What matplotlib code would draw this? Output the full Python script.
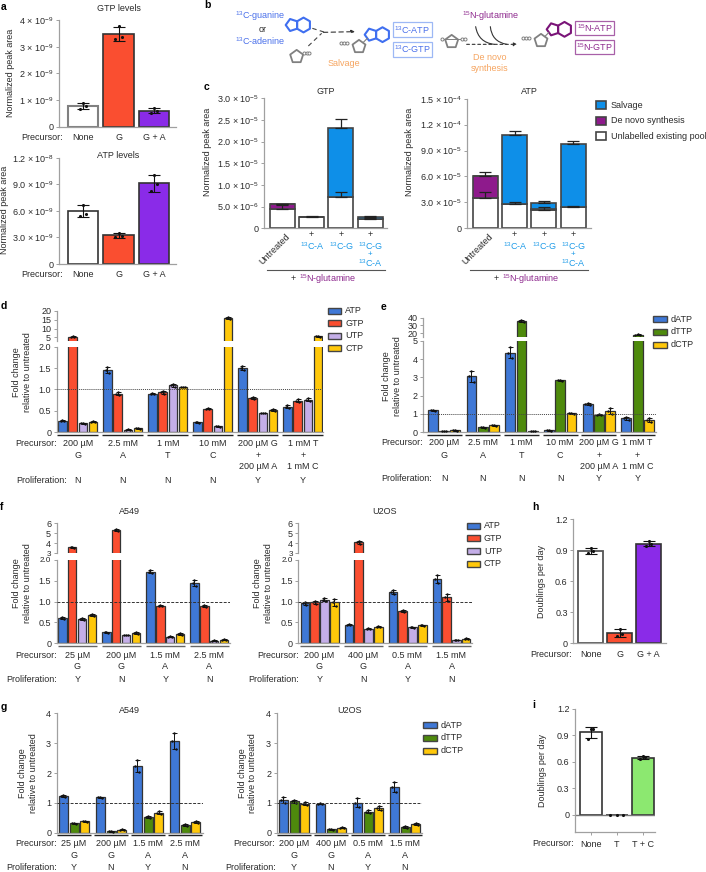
import numpy as np
import matplotlib
matplotlib.use('Agg')
import matplotlib.pyplot as plt
from matplotlib.patches import Rectangle, Polygon, FancyArrowPatch

plt.rcParams['font.family'] = ['Liberation Sans', 'DejaVu Sans']
plt.rcParams['mathtext.fontset'] = 'custom'
plt.rcParams['mathtext.rm'] = 'Liberation Sans'
plt.rcParams['mathtext.it'] = 'Liberation Sans:italic'
plt.rcParams['mathtext.bf'] = 'Liberation Sans:bold'
plt.rcParams['mathtext.default'] = 'regular'

W, H = 706, 872
FS = 6.5
TXT = '#2a2a2a'
SP = '#a0a0a0'
RED, VIOLET, BLUE, LILAC, GOLD, GREEN, LGREEN = '#FA4E30', '#8A2BE8', '#3F78D6', '#C4AEE8', '#FFC80A', '#4E8A0C', '#8CE870'
SALV, DENOVO = '#0E8FE8', '#8E1A8C'
C13 = '#1E9BE8'
LBLUE, LPURP, LORANGE = '#4A70EA', '#8E2A8E', '#F6A560'

# ---------- data ----------
prec3_a = ['None', 'G', 'G + A']
a_gtp_reps = [[0.68, 0.78, 0.88], [3.28, 3.35, 3.78], [0.50, 0.60, 0.70]]   # x 1e-9
a_atp_reps = [[5.4, 5.7, 6.7], [3.05, 3.15, 3.55], [8.2, 9.0, 10.1]]        # x 1e-9

c_labels = ['Untreated', '13C-A', '13C-G', '13C-G + 13C-A']
c_gtp_pool = [4.4, 2.5, 7.3, 2.1]        # x 1e-6
c_gtp_denovo = [1.1, 0.0, 0.0, 0.0]
c_gtp_salvage = [0.0, 0.0, 15.8, 0.4]
c_gtp_pool_err = [0.9, 0.3, 1.1, 0.2]
c_gtp_total_err = [0.2, 0.0, 2.1, 0.4]
c_atp_pool = [3.55, 2.8, 2.15, 2.45]     # x 1e-5
c_atp_denovo = [2.55, 0.0, 0.1, 0.0]
c_atp_salvage = [0.0, 7.96, 0.65, 7.35]
c_atp_pool_err = [0.7, 0.3, 0.3, 0.15]
c_atp_total_err = [0.4, 0.55, 0.3, 0.35]

d_ATP = [0.27, 1.45, 0.90, 0.23, 1.51, 0.60]
d_GTP = [5.3, 0.90, 0.93, 0.55, 0.80, 0.74]
d_UTP = [0.21, 0.06, 1.10, 0.14, 0.45, 0.76]
d_CTP = [0.25, 0.09, 1.06, 16.0, 0.52, 5.5]
d_ATP_e = [0.01, 0.07, 0.01, 0.01, 0.05, 0.03]
d_GTP_e = [0.3, 0.04, 0.03, 0.01, 0.03, 0.03]
d_UTP_e = [0.01, 0.01, 0.03, 0.01, 0.01, 0.03]
d_CTP_e = [0.01, 0.01, 0.01, 0.4, 0.03, 0.2]
d_rows = [['200 µM', '2.5 mM', '1 mM', '10 mM', '200 µM G', '1 mM T'],
          ['G', 'A', 'T', 'C', '+', '+'],
          ['', '', '', '', '200 µM A', '1 mM C']]
dprolif = ['N', 'N', 'N', 'N', 'Y', 'Y']

e_dATP = [1.20, 3.05, 4.35, 0.10, 1.53, 0.77]
e_dTTP = [0.07, 0.27, 36.0, 2.83, 0.97, 17.5]
e_dCTP = [0.10, 0.38, 0.07, 1.05, 1.15, 0.68]
e_dATP_e = [0.03, 0.30, 0.30, 0.03, 0.05, 0.08]
e_dTTP_e = [0.01, 0.02, 1.5, 0.03, 0.02, 0.6]
e_dCTP_e = [0.02, 0.03, 0.01, 0.03, 0.15, 0.12]

f1_ATP = [0.61, 0.26, 1.72, 1.44]
f1_GTP = [3.6, 5.35, 0.90, 0.90]
f1_UTP = [0.58, 0.20, 0.16, 0.06]
f1_CTP = [0.68, 0.24, 0.22, 0.09]
f1_ATP_e = [0.03, 0.01, 0.03, 0.07]
f1_GTP_e = [0.08, 0.12, 0.01, 0.03]
f1_UTP_e = [0.03, 0.01, 0.01, 0.01]
f1_CTP_e = [0.02, 0.02, 0.03, 0.01]
f2_ATP = [0.96, 0.45, 1.23, 1.54]
f2_GTP = [0.98, 4.1, 0.77, 1.10]
f2_UTP = [1.05, 0.35, 0.38, 0.08]
f2_CTP = [0.98, 0.40, 0.43, 0.11]
f2_ATP_e = [0.03, 0.02, 0.05, 0.10]
f2_GTP_e = [0.04, 0.15, 0.03, 0.08]
f2_UTP_e = [0.03, 0.01, 0.02, 0.01]
f2_CTP_e = [0.08, 0.01, 0.02, 0.01]

g1_dATP = [1.22, 1.18, 2.24, 3.07]
g1_dTTP = [0.31, 0.05, 0.52, 0.26]
g1_dCTP = [0.38, 0.10, 0.67, 0.36]
g1_dATP_e = [0.03, 0.02, 0.20, 0.28]
g1_dTTP_e = [0.02, 0.01, 0.03, 0.02]
g1_dCTP_e = [0.02, 0.02, 0.05, 0.03]
g2_dATP = [1.08, 0.97, 1.00, 1.53]
g2_dTTP = [1.05, 0.11, 0.71, 0.19]
g2_dCTP = [0.97, 0.17, 0.83, 0.30]
g2_dATP_e = [0.10, 0.02, 0.15, 0.18]
g2_dTTP_e = [0.05, 0.01, 0.04, 0.02]
g2_dCTP_e = [0.05, 0.02, 0.07, 0.03]

f1_conc = ['25 µM', '200 µM', '1.5 mM', '2.5 mM']
f2_conc = ['200 µM', '400 µM', '0.5 mM', '1.5 mM']
fg_base = ['G', 'G', 'A', 'A']
fg_prolif = ['Y', 'N', 'Y', 'N']

h_reps = [[0.87, 0.89, 0.92], [0.07, 0.09, 0.14], [0.94, 0.96, 0.99]]
i_reps = [[0.86, 0.97, 0.97], [0.0, 0.0, 0.0], [0.63, 0.65, 0.66]]
prec3_i = ['None', 'T', 'T + C']

# ---------- helpers ----------
fig = plt.figure(figsize=(W / 100, H / 100), dpi=100, facecolor='white')
ov = fig.add_axes([0, 0, 1, 1], zorder=20)
ov.set_xlim(0, W); ov.set_ylim(H, 0); ov.axis('off'); ov.patch.set_alpha(0)


def T(x, y, s, ha='center', va='center', color=TXT, fs=FS, **kw):
    return ov.text(x, y, s, ha=ha, va=va, color=color, fontsize=fs, **kw)


def axpx(l, r, top, bottom):
    ax = fig.add_axes([l / W, 1 - bottom / H, (r - l) / W, (bottom - top) / H])
    for s in ['top', 'right']:
        ax.spines[s].set_visible(False)
    for s in ['left', 'bottom']:
        ax.spines[s].set_color(SP); ax.spines[s].set_linewidth(0.9)
    ax.tick_params(axis='y', length=2.5, width=0.7, color=SP, labelsize=FS, labelcolor=TXT, pad=1.5)
    ax.tick_params(axis='x', length=0)
    return ax


def simple_bars(ax, reps, colors, width, cats, edge='#333333', pad=4.5, tick=0):
    m = np.array([np.mean(r) for r in reps])
    sd = np.array([np.std(r, ddof=1) for r in reps])
    x = np.arange(len(reps))
    ax.bar(x, m, width=width, color=colors, edgecolor=edge, linewidth=1.2, zorder=2)
    has = sd > 0
    ax.errorbar(x[has], m[has], yerr=sd[has], fmt='none', ecolor='#111111', elinewidth=0.8, capsize=4.5,
                capthick=0.8, zorder=3)
    for xi, r, s in zip(x, reps, sd):
        spread = 0.09 if s > 0 else 0.26
        ax.scatter(xi + np.array([-spread, spread, 0.0]), r, s=5, color='#111111', zorder=4, linewidths=0,
                   clip_on=False)
    ax.set_xticks(x, cats)
    ax.tick_params(axis='x', length=tick, width=0.7, color=SP, labelsize=FS, labelcolor=TXT, pad=pad)


def xspan(ax, first, step, l, r):
    ax.set_xlim((l - first) / step, (r - first) / step)


def grouped(axes, series, errs, colors, bstep, bwidth, gstep):
    k = len(series)
    for ax in axes:
        for j, (v, e, c) in enumerate(zip(series, errs, colors)):
            x = np.arange(len(v)) + (j - (k - 1) / 2) * bstep / gstep
            ax.bar(x, v, width=bwidth / gstep, color=c, edgecolor='#333333', linewidth=0.9, zorder=2)
            ax.errorbar(x, v, yerr=e, fmt='none', ecolor='#111111', elinewidth=0.7, capsize=1.8, capthick=0.7, zorder=3)
            dx = bwidth / gstep * 0.22
            v_, e_ = np.array(v), np.array(e)
            for off, val in [(-dx, v_), (dx, v_ - e_), (0, v_ + e_)]:
                ax.scatter(x + off, val, s=3, color='#111111', zorder=4, linewidths=0)


def broken(l, r, upper_top, upper_bot, lower_top, lower_bot, upper_lim, lower_lim, upper_ticks, lower_ticks,
           series, errs, colors, bstep, bwidth, g0, gstep, ref_style):
    up = axpx(l, r, upper_top, upper_bot)
    lo = axpx(l, r, lower_top, lower_bot)
    up.spines['bottom'].set_visible(False)
    up.set_ylim(*upper_lim); lo.set_ylim(*lower_lim)
    up.set_yticks(upper_ticks); up.set_yticklabels([str(t) for t in upper_ticks])
    lo.set_yticks(lower_ticks[0]); lo.set_yticklabels(lower_ticks[1])
    for ax in (up, lo):
        xspan(ax, g0, gstep, l, r)
        ax.set_xticks([])
    grouped((up, lo), series, errs, colors, bstep, bwidth, gstep)
    lo.axhline(1, zorder=5, **ref_style)
    return up, lo


def tighten(up, lo):
    # the "3" and "2.0" ticks sit very close together in panel f
    up.get_yticklabels()[0].set_fontsize(5.9)
    lo.get_yticklabels()[-1].set_fontsize(5.9)


def under(g0, gstep, n, half, y, color='#222222'):
    for i in range(n):
        c = g0 + i * gstep
        ov.plot([c - half, c + half], [y, y], color=color, lw=1.0, solid_capstyle='butt')


def legend(x0, x1, text_x, ys, labels, colors, h=6.0, edge='#444444', lw=1.0):
    for y, lab, col in zip(ys, labels, colors):
        ov.add_patch(Rectangle((x0, y - h / 2), x1 - x0, h, facecolor=col, edgecolor=edge, linewidth=lw))
        T(text_x, y, lab, ha='left')


def rows(g0, gstep, ys, table):
    for y, row in zip(ys, table):
        for i, s in enumerate(row):
            if s:
                T(g0 + i * gstep, y, s)


dash = dict(color='#333333', lw=0.7, ls=(0, (3, 1.5)))
dots = dict(color='#444444', lw=0.7, ls=(0, (1, 1)))

# ---------- panel labels ----------
for (x, y, s) in [(1, 7, 'a'), (204, 5, 'b'), (204, 87, 'c'), (1, 306, 'd'), (381, 306.5, 'e'),
                  (0, 507, 'f'), (1, 707, 'g'), (532, 507, 'h'), (532, 705, 'i')]:
    T(x, y, s, ha='left', fontweight='bold', color='black', fs=7.5)

# ---------- a ----------
ax = axpx(59.3, 176, 20, 126.7)
xspan(ax, 83, 35.5, 59.3, 176)
simple_bars(ax, [np.array(r) * 1e-9 for r in a_gtp_reps], ['white', RED, VIOLET], 0.87, prec3_a)
ax.set_ylim(0, 4e-9)
ax.set_yticks(np.arange(5) * 1e-9, ['0'] + [f'{v} × 10$^{{-9}}$' for v in [1, 2, 3, 4]])
ax.patches[0].set_edgecolor('#808080'); ax.patches[0].set_linewidth(1.5)
T(118.5, 8.5, 'GTP levels')
T(10.3, 73, 'Normalized peak area', rotation=90)
T(62.5, 137.5, 'Precursor:', ha='right')

ax = axpx(59.3, 176, 157.7, 264)
xspan(ax, 83, 35.5, 59.3, 176)
simple_bars(ax, [np.array(r) * 1e-9 for r in a_atp_reps], ['white', RED, VIOLET], 0.87, prec3_a)
ax.set_ylim(0, 1.2e-8)
ax.set_yticks(np.array([0, 3, 6, 9, 12]) * 1e-9,
              ['0', '3.0 × 10$^{-9}$', '6.0 × 10$^{-9}$', '9.0 × 10$^{-9}$', '1.2 × 10$^{-8}$'])
T(118.5, 155, 'ATP levels')
T(4.5, 210, 'Normalized peak area', rotation=90)
T(62.5, 274, 'Precursor:', ha='right')


# ---------- b (schematic) ----------
def ring(cx, cy, r, n, rot, color, lw=1.5):
    ang = np.deg2rad(rot) + 2 * np.pi * np.arange(n) / n
    ov.add_patch(Polygon(np.c_[cx + r * np.sin(ang), cy - r * np.cos(ang)], closed=True, fill=False,
                         edgecolor=color, linewidth=lw, joinstyle='round'))


def purine(x, y, color):
    ring(x, y, 6.3, 5, 270, color)
    ring(x + 11.5, y, 7.4, 6, 0, color)


def pentose(x, y, px, py, color='#808080'):
    ring(x, y, 6.8, 5, 0, color, lw=1.3)
    ov.plot(px, py, '-o', color=color, lw=0.7, ms=2.2, mfc='white', mew=0.7)


tx, ty = lambda z: 225 + z / 3, lambda z: z / 3
purine(tx(201), ty(75), '#3F6FF0')
pentose(tx(215), ty(170), [tx(237), tx(245), tx(253)], [ty(158)] * 3)
purine(tx(438), ty(104), '#3F6FF0')
pentose(tx(402), ty(140), [tx(347), tx(356), tx(365)], [ty(128)] * 3)
ov.plot([tx(416), tx(427)], [ty(126), ty(115)], color='#808080', lw=0.8)
pentose(tx(680), ty(125), [tx(650), tx(710), tx(720)], [ty(118)] * 3)
purine(tx(984), ty(88), '#7A1478')
pentose(tx(948), ty(122), [tx(893), tx(902), tx(911)], [ty(113)] * 3)
ov.plot([tx(960), tx(971)], [ty(109), ty(98)], color='#808080', lw=0.8)

ds = dict(color='#444444', lw=0.8, ls=(0, (4, 3)))
ov.plot([tx(262), tx(300)], [ty(85), ty(97)], **ds)
ov.plot([tx(250), tx(290)], [ty(138), ty(100)], **ds)
ov.add_patch(FancyArrowPatch((tx(295), ty(97)), (tx(390), ty(95)), arrowstyle='-|>', mutation_scale=5,
                             color='#333333', lw=0.8, ls=(0, (4, 3)), shrinkA=0, shrinkB=0))
ov.add_patch(FancyArrowPatch((tx(725), ty(133)), (tx(877), ty(133)), arrowstyle='-|>', mutation_scale=5,
                             color='#333333', lw=0.8, ls=(0, (2.5, 2.5)), shrinkA=0, shrinkB=0))
for x0, x1 in [(752, 808), (796, 845)]:
    ov.add_patch(FancyArrowPatch((tx(x0), ty(80)), (tx(x1), ty(133)), arrowstyle='-', lw=0.8, color='#333333',
                                 connectionstyle='arc3,rad=0.38', shrinkA=0, shrinkB=0))

T(tx(180), ty(47), '$^{13}$C-guanine', ha='right', color=LBLUE)
T(tx(113), ty(87), 'or')
T(tx(180), ty(124), '$^{13}$C-adenine', ha='right', color=LBLUE)
T(tx(358), ty(192), 'Salvage', color=LORANGE)
T(tx(793), ty(173), 'De novo', color=LORANGE)
T(tx(793), ty(206), 'synthesis', color=LORANGE)
T(tx(797), ty(49), '$^{15}$N-glutamine', color=LPURP)
for (x0, x1, y0, y1, s, ec, c) in [(503, 620, 67, 112, '$^{13}$C-ATP', '#9DB8F5', LBLUE),
                                    (503, 620, 125, 170, '$^{13}$C-GTP', '#9DB8F5', LBLUE),
                                    (1051, 1168, 62, 104, '$^{15}$N-ATP', '#A860A8', LPURP),
                                    (1051, 1168, 120, 162, '$^{15}$N-GTP', '#A860A8', LPURP)]:
    ov.add_patch(Rectangle((tx(x0), ty(y0)), (x1 - x0) / 3, (y1 - y0) / 3, fill=False, edgecolor=ec, linewidth=0.9))
    T(tx((x0 + x1) / 2), ty((y0 + y1) / 2), s, color=c)


# ---------- c ----------
def stacked(l, r, c0, top, pool, denovo, salvage, pool_e, tot_e, scale, ylim, ticks, labels):
    ax = axpx(l, r, top, 228.3)
    xspan(ax, c0, 29.3, l, r)
    x = np.arange(4)
    p, dn, sv = [np.array(a) * scale for a in (pool, denovo, salvage)]
    w = 25 / 29.3
    ec = dict(edgecolor='#444444', linewidth=1.2, width=w, zorder=2)
    ax.bar(x, p, color='white', **ec)
    ax.bar(x, dn, bottom=p, color=DENOVO, **ec)
    ax.bar(x, sv, bottom=p + dn, color=SALV, **ec)
    tot = p + dn + sv
    ebk = dict(fmt='none', ecolor='#222222', elinewidth=0.9, capsize=4.5, capthick=0.9, zorder=3)
    ax.errorbar(x, p, yerr=[np.zeros(4), np.array(pool_e) * scale], **ebk)
    te = np.array(tot_e) * scale
    ax.errorbar(x[te > 0], tot[te > 0], yerr=[np.zeros((te > 0).sum()), te[te > 0]], **ebk)
    ax.set_ylim(*ylim)
    ax.set_yticks(ticks, labels)
    ax.set_xticks([])
    for i, xc in enumerate(c0 + 29.3 * np.arange(4)):
        if i:
            T(xc, 234.7, '+', color=TXT)
    T(c0 + 3, 231.5, 'Untreated', rotation=45, ha='right', va='top', rotation_mode='anchor')
    T(c0 + 29.3 + 1, 246, '$^{13}$C-A', color=C13)
    T(c0 + 58.6 + 1, 246, '$^{13}$C-G', color=C13)
    T(c0 + 87.9, 246, '$^{13}$C-G', color=C13)
    T(c0 + 87.9, 254.6, '+', color=C13, fs=5.8)
    T(c0 + 87.9, 263.6, '$^{13}$C-A', color=C13)
    ov.plot([c0 - 15, c0 + 102.7], [270, 270], color='#555555', lw=0.8)
    T(c0 + 11, 278.7, '+')
    T(c0 + 16.7, 278.7, '$^{15}$N-glutamine', ha='left', color=LPURP)
    return ax


stacked(264.3, 387.3, 282.3, 98.3, c_gtp_pool, c_gtp_denovo, c_gtp_salvage, c_gtp_pool_err, c_gtp_total_err,
        1e-6, (0, 3e-5), np.arange(0, 3.01e-5, 5e-6),
        ['0', '5.0 × 10$^{-6}$', '1.0 × 10$^{-5}$', '1.5 × 10$^{-5}$', '2.0 × 10$^{-5}$', '2.5 × 10$^{-5}$', '3.0 × 10$^{-5}$'])
stacked(467.3, 590.7, 485.3, 98.7, c_atp_pool, c_atp_denovo, c_atp_salvage, c_atp_pool_err, c_atp_total_err,
        1e-5, (0, 1.5e-4), np.arange(0, 1.51e-4, 3e-5),
        ['0', '3.0 × 10$^{-5}$', '6.0 × 10$^{-5}$', '9.0 × 10$^{-5}$', '1.2 × 10$^{-4}$', '1.5 × 10$^{-4}$'])
T(326, 91.5, 'GTP')
T(225 + 913 / 3, 91.5, 'ATP')
T(207.7, 151.7, 'Normalized peak area', rotation=90)
T(410, 151.7, 'Normalized peak area', rotation=90)
legend(596, 605.7, 611, [105.3, 120.7, 136.3], ['Salvage', 'De novo synthesis', 'Unlabelled existing pool'],
       [SALV, DENOVO, 'white'], h=8, lw=1.2)

FC = 'Fold change\nrelative to untreated'

# ---------- d ----------
broken(56.7, 323, 311, 341, 346.7, 432.3, (2.9, 20), (0, 2), [5, 10, 15, 20],
       ([0, .5, 1, 1.5, 2], ['0', '0.5', '1.0', '1.5', '2.0']),
       [d_ATP, d_GTP, d_UTP, d_CTP], [d_ATP_e, d_GTP_e, d_UTP_e, d_CTP_e], [BLUE, RED, LILAC, GOLD],
       10.3, 8.4, 77.8, 45, dots)
under(77.8, 45, 6, 20.5, 434.8)
rows(77.8, 45, [443, 455, 466], d_rows)
rows(77.8, 45, [480], [dprolif])
T(15.7, 443, 'Precursor:', ha='left')
T(16, 480, 'Proliferation:', ha='left')
T(22, 372.3, FC, rotation=90, multialignment='center', linespacing=1.15)
legend(328.3, 341, 345.3, [310.7, 323, 335.7, 348.3], ['ATP', 'GTP', 'UTP', 'CTP'], [BLUE, RED, LILAC, GOLD])

# ---------- e ----------
broken(423.3, 655.7, 317.7, 337.3, 340.7, 432.3, (14.4, 40), (0, 5), [20, 30, 40],
       ([0, 1, 2, 3, 4, 5], ['0', '1', '2', '3', '4', '5']),
       [e_dATP, e_dTTP, e_dCTP], [e_dATP_e, e_dTTP_e, e_dCTP_e], [BLUE, GREEN, GOLD],
       11.3, 9.8, 444, 38.73, dots)
under(444, 38.73, 6, 17.5, 434.8)
rows(444, 38.73, [442.7, 455, 466], d_rows)
rows(444, 38.73, [478], [dprolif])
T(381, 442.7, 'Precursor:', ha='left')
T(381, 478, 'Proliferation:', ha='left')
T(392, 375.7, FC, rotation=90, multialignment='center', linespacing=1.15)
legend(653.3, 666.7, 670.7, [319, 331.7, 344.7], ['dATP', 'dTTP', 'dCTP'], [BLUE, GREEN, GOLD])

# ---------- f ----------
ltick = ([0, .5, 1, 1.5, 2], ['0', '0.5', '1.0', '1.5', '2.0'])
up, lo = broken(56.7, 230, 523.3, 553.3, 560, 643.3, (3, 6), (0, 2), [3, 4, 5, 6], ltick,
                [f1_ATP, f1_GTP, f1_UTP, f1_CTP], [f1_ATP_e, f1_GTP_e, f1_UTP_e, f1_CTP_e], [BLUE, RED, LILAC, GOLD],
                9.9, 8.3, 77.3, 44, dash)
tighten(up, lo)
under(77.3, 44, 4, 19.5, 645.5, color='#666666')
rows(77.3, 44, [655, 666], [f1_conc, fg_base])
rows(77.3, 44, [679.5], [fg_prolif])
T(15.7, 655, 'Precursor:', ha='left')
T(6.7, 679.5, 'Proliferation:', ha='left')
T(22, 583, FC, rotation=90, multialignment='center', linespacing=1.15)
T(129, 511.7, 'A549')

up, lo = broken(298.3, 471.7, 523.3, 553.3, 560, 643.3, (3, 6), (0, 2), [3, 4, 5, 6], ltick,
                [f2_ATP, f2_GTP, f2_UTP, f2_CTP], [f2_ATP_e, f2_GTP_e, f2_UTP_e, f2_CTP_e], [BLUE, RED, LILAC, GOLD],
                9.9, 8.3, 319.5, 44, dash)
tighten(up, lo)
under(319.5, 44, 4, 19.5, 645.5, color='#666666')
rows(319.5, 44, [655, 666], [f2_conc, fg_base])
rows(319.5, 44, [679.5], [fg_prolif])
T(257, 655, 'Precursor:', ha='left')
T(248, 679.5, 'Proliferation:', ha='left')
T(263, 583, FC, rotation=90, multialignment='center', linespacing=1.15)
T(384.7, 511.7, 'U2OS')
legend(467.3, 480, 484, [525.7, 538, 551, 563.7], ['ATP', 'GTP', 'UTP', 'CTP'], [BLUE, RED, LILAC, GOLD])


# ---------- g ----------
def panel_g(l, r, g0, series, errs):
    ax = axpx(l, r, 713.3, 832.7)
    xspan(ax, g0, 37, l, r)
    ax.set_ylim(0, 4); ax.set_yticks([0, 1, 2, 3, 4], ['0', '1', '2', '3', '4'])
    ax.set_xticks([])
    grouped([ax], series, errs, [BLUE, GREEN, GOLD], 10.7, 9, 37)
    ax.axhline(1, zorder=5, **dash)
    under(g0, 37, 4, 17, 835)
    return ax


panel_g(56.7, 202.7, 74, [g1_dATP, g1_dTTP, g1_dCTP], [g1_dATP_e, g1_dTTP_e, g1_dCTP_e])
panel_g(276.7, 422.3, 294, [g2_dATP, g2_dTTP, g2_dCTP], [g2_dATP_e, g2_dTTP_e, g2_dCTP_e])
rows(74, 37, [843.7, 855], [f1_conc, fg_base])
rows(74, 37, [867.5], [fg_prolif])
rows(294, 37, [843.7, 855], [f2_conc, fg_base])
rows(294, 37, [867.5], [fg_prolif])
T(15.7, 843.7, 'Precursor:', ha='left')
T(6.7, 867.5, 'Proliferation:', ha='left')
T(233, 843.7, 'Precursor:', ha='left')
T(225, 867.5, 'Proliferation:', ha='left')
T(28, 773, FC, rotation=90, multialignment='center', linespacing=1.15)
T(247.5, 773, FC, rotation=90, multialignment='center', linespacing=1.15)
T(129, 710.7, 'A549')
T(349.3, 710.7, 'U2OS')
legend(423.3, 436.7, 441, [725.3, 737.7, 750.7], ['dATP', 'dTTP', 'dCTP'], [BLUE, GREEN, GOLD])

# ---------- h ----------
ax = axpx(573.3, 666, 519.3, 643.3)
xspan(ax, 590.7, 29, 573.3, 666)
simple_bars(ax, h_reps, ['white', RED, VIOLET], 25 / 29, prec3_a, tick=0)
ax.patches[0].set_edgecolor('#555555'); ax.patches[0].set_linewidth(1.3)
ax.set_ylim(0, 1.2); ax.set_yticks([0, .3, .6, .9, 1.2], ['0', '0.3', '0.6', '0.9', '1.2'])
T(572, 654.7, 'Precursor:', ha='right')
T(541.7, 581.7, 'Doublings per day', rotation=90)

# ---------- i ----------
ax = axpx(575, 655.3, 708.7, 832.3)
xspan(ax, 590.7, 26, 575, 655.3)
simple_bars(ax, i_reps, ['white', 'white', LGREEN], 21.7 / 26, prec3_i, pad=3, tick=2.5)
ax.set_ylim(-0.2, 1.2); ax.set_yticks([0, .3, .6, .9, 1.2], ['0', '0.3', '0.6', '0.9', '1.2'])
ax.axhline(0, color='#777777', lw=1.0, zorder=2.5)
T(574, 843.3, 'Precursor:', ha='right')
T(542.7, 770, 'Doublings per day', rotation=90)

fig.savefig('out.png', dpi=100)
